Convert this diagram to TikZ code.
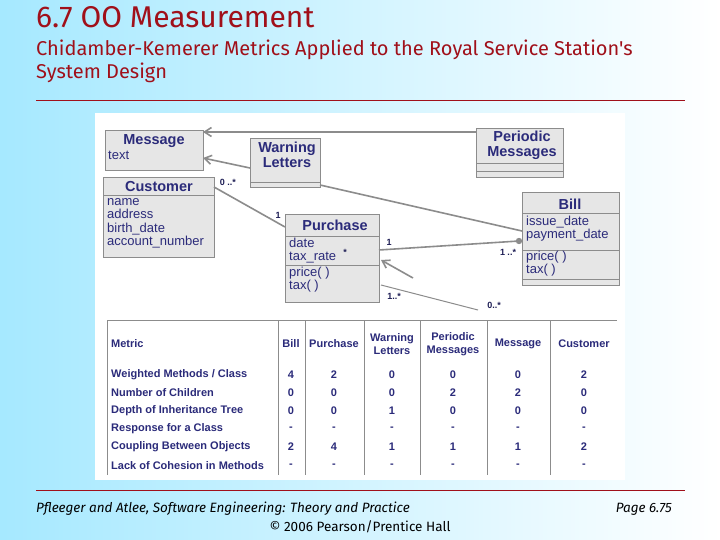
\documentclass[tikz,border=0pt]{standalone}
\usepackage{fontspec}
\setmainfont{Liberation Sans}
\newfontfamily\titlefont{Fira Sans}
\usetikzlibrary{arrows.meta}
\definecolor{tred}{HTML}{A0101A}
\definecolor{navy}{HTML}{2B2B7A}
\definecolor{boxg}{HTML}{E6E6E6}
\definecolor{lineg}{HTML}{8C8C8C}
\tikzset{
 cls/.style={draw=lineg,fill=boxg,line width=0.6pt},
 ctitle/.style={font=\bfseries\fontsize{14.5}{15}\selectfont,text=navy,inner sep=0},
 attr/.style={font=\fontsize{13}{13.2}\selectfont,text=navy,align=left,anchor=north west,inner sep=0},
 conn/.style={draw=lineg,line width=1.6pt},
 mult/.style={font=\bfseries\fontsize{9}{10}\selectfont,text=navy!70!black,inner sep=0},
 tb/.style={font=\bfseries\fontsize{11}{12.5}\selectfont,text=navy,inner sep=0},
 tl/.style={draw=lineg,line width=0.5pt},
}
\begin{document}
\begin{tikzpicture}[x=1pt,y=-1pt]
\shade[left color=blue!25!cyan!35,right color=white] (0,0) rectangle (720,540);
\useasboundingbox (0,0) rectangle (720,540);
\node[anchor=west,inner sep=0,text=tred,font=\titlefont\fontsize{30}{33}\selectfont] (title) at (36,17) {6.7 OO Measurement};
\node[anchor=west,inner sep=0,text=tred,font=\titlefont\fontsize{20}{23}\selectfont] (sub) at (36,50) {Chidamber-Kemerer Metrics Applied to the Royal Service Station's};
\node[anchor=west,inner sep=0,text=tred,font=\titlefont\fontsize{20}{23}\selectfont] (sub2) at (36,73) {System Design};
\draw[tred,line width=0.8pt] (36,100) -- (685,100);
\fill[white] (95,113) rectangle (625,480);
% classes
\draw[cls] (105,130) rectangle (203,170);
\node[ctitle] (msg) at (154,141) {Message};
\node[attr] (msga) at (108,151) {text};
\draw[cls] (250,138) rectangle (320,187); \draw[lineg] (250,182)--(320,182);
\node[ctitle,align=center] (warn) at (287,155) {Warning\\Letters};
\draw[cls] (476,128) rectangle (563,177); \draw[lineg] (476,163)--(563,163) (476,171)--(563,171);
\node[ctitle,align=center] (per) at (522,145) {Periodic\\Messages};
\draw[cls] (103,177) rectangle (214,257); \draw[lineg] (103,195)--(214,195);
\node[ctitle] (cust) at (159,187) {Customer};
\node[attr] (custa) at (107,198.5) {name\\address\\birth\_date\\account\_number};
\draw[cls] (285,214) rectangle (379,302); \draw[lineg] (285,236)--(379,236) (285,265)--(379,265);
\node[ctitle] (pur) at (335,225) {Purchase};
\node[attr] (pura) at (289,238) {date\\tax\_rate};
\node[attr] (purm) at (289,267) {price( )\\tax( )};
\draw[cls] (522,192) rectangle (619,285); \draw[lineg] (522,213)--(619,213) (522,250)--(619,250) (522,279)--(619,279);
\node[ctitle] (bill) at (570,204) {Bill};
\node[attr] (billa) at (526,216) {issue\_date\\payment\_date};
\node[attr] (billm) at (526,251) {price( )\\tax( )};
% connectors
\coordinate (m1) at (203,132); \coordinate (p1) at (476,132);
\draw[conn,-{Straight Barb[length=7pt,width=9pt]}] (p1) -- (m1);
\coordinate (m2) at (203,158); \coordinate (w1) at (250,168);
\draw[conn,-{Straight Barb[length=7pt,width=9pt]}] (w1) -- (m2);
\coordinate (w2) at (320,185); \coordinate (b1) at (522,231);
\draw[conn] (w2) -- (b1);
\coordinate (c1) at (214,187); \coordinate (pc) at (285,227);
\draw[conn] (c1) -- (pc);
\coordinate (pb) at (379,250); \coordinate (bd) at (519,241);
\draw[conn] (pb) -- (bd); \fill[lineg] (bd) circle (3.2pt);
\coordinate (ar1) at (413,278); \coordinate (ar2) at (381,260);
\draw[conn,-{Straight Barb[length=7pt,width=9pt]}] (ar1) -- (ar2);
\coordinate (l1) at (381,285); \coordinate (l2) at (478,310);
\draw[lineg,line width=1pt] (l1) -- (l2);
\node[mult] (t1) at (228,182) {0 ..*};
\node[mult] (t2) at (278,215) {1};
\node[mult] (t3) at (345,252) {*};
\node[mult] (t4) at (389,242) {1};
\node[mult] (t5) at (508,252) {1 ..*};
\node[mult] (t6) at (394,296) {1..*};
\node[mult] (t7) at (494,305) {0..*};
% table
\draw[tl] (107,320)--(617,320);
\foreach \x in {107,278,305,364,420,487,550} \draw[tl] (\x,320)--(\x,475);
\node[tb,anchor=west] (h0) at (111,344) {Metric};
\node[tb] (h1) at (291,344) {Bill};
\node[tb] (h2) at (334,344) {Purchase};
\node[tb,align=center] (h3) at (392,344) {Warning\\Letters};
\node[tb,align=center] (h4) at (453,344) {Periodic\\Messages};
\node[tb] (h5) at (518,344) {Message};
\node[tb] (h6) at (584,344) {Customer};
\foreach \y/\m/\a/\b/\c/\d/\e/\f in {
 375/{Weighted Methods / Class}/4/2/0/0/0/2,
 393/Number of Children/0/0/0/2/2/0,
 411/Depth of Inheritance Tree/0/0/1/0/0/0,
 429/Response for a Class/-/-/-/-/-/-,
 447/Coupling Between Objects/2/4/1/1/1/2,
 466/Lack of Cohesion in Methods/-/-/-/-/-/-}{
 \node[tb,anchor=west] at (111,\y) {\m};
 \node[tb] at (291,\y) {\a}; \node[tb] at (334,\y) {\b};
 \node[tb] at (392,\y) {\c}; \node[tb] at (453,\y) {\d};
 \node[tb] at (518,\y) {\e}; \node[tb] at (584,\y) {\f};
}
% footer
\draw[tred,line width=0.6pt] (36,490) -- (685,490);
\node[anchor=west,inner sep=0,font=\titlefont\itshape\fontsize{13.5}{15}\selectfont] (f1) at (36,509) {Pfleeger and Atlee, Software Engineering: Theory and Practice};
\node[inner sep=0,font=\titlefont\fontsize{13.5}{15}\selectfont] (f2) at (360,527) {© 2006 Pearson/Prentice Hall};
\node[anchor=east,inner sep=0,font=\titlefont\itshape\fontsize{13.5}{15}\selectfont] (f3) at (672,509) {Page 6.75};
\end{tikzpicture}
\end{document}
